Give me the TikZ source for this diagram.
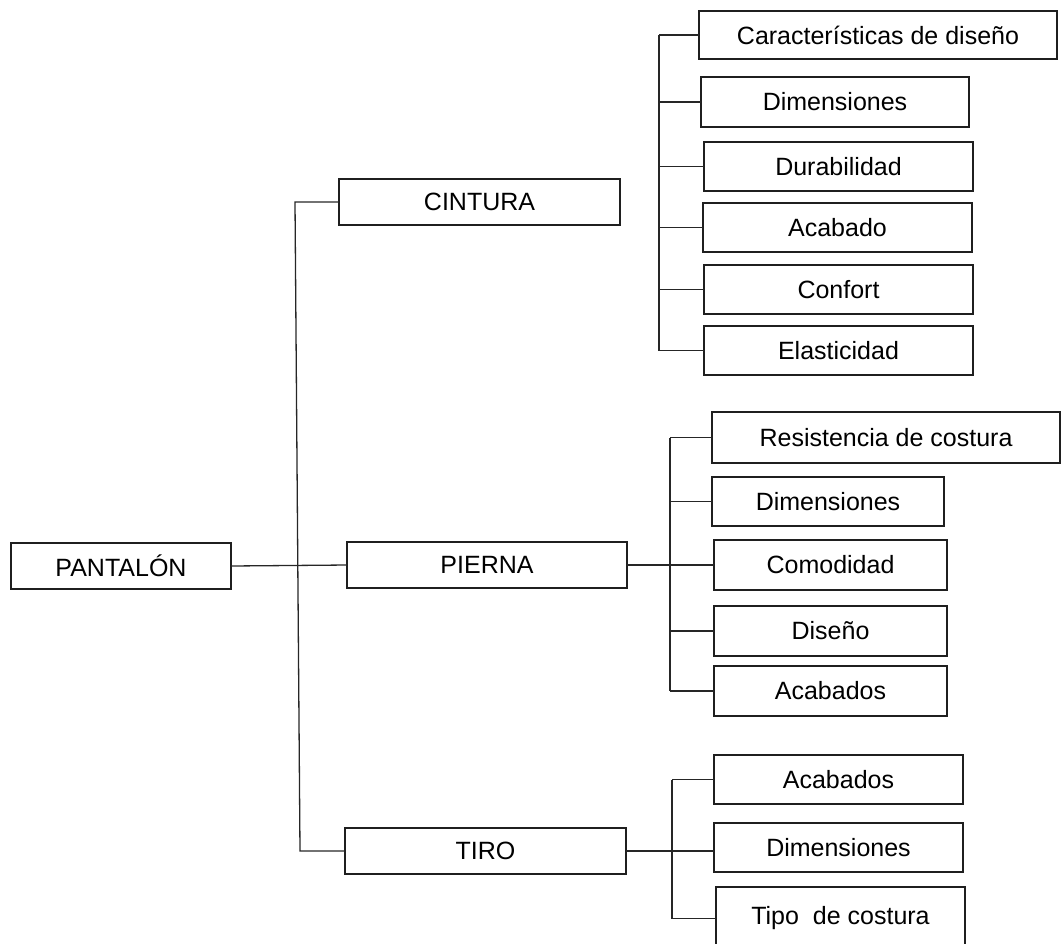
\documentclass[tikz,border=0pt]{standalone}
\usepackage{fontspec}
\setmainfont{Liberation Sans}
\begin{document}
\begin{tikzpicture}[x=1pt,y=-1pt,
  box/.style={draw=black!88, line width=2pt, fill=white, inner sep=0pt, outer sep=0pt,
    font=\fontsize{25}{30}\selectfont},
  link/.style={draw=black!85, line width=1.3pt}]
\useasboundingbox (0,0) rectangle (1062,943);
\clip (0,0) rectangle (1062,943);

% root and first level
\node[box, minimum width=220, minimum height=46] (pant) at (121,566) {PANTALÓN};
\node[box, minimum width=281, minimum height=46] (cint) at (479.5,202) {CINTURA};
\node[box, minimum width=280, minimum height=46] (pier) at (487,565) {PIERNA};
\node[box, minimum width=281, minimum height=46] (tiro) at (485.5,851) {TIRO};

% CINTURA branch
\node[box, minimum width=358, minimum height=48] (c1) at (878,35) {Características de diseño};
\node[box, minimum width=268, minimum height=50] (c2) at (835,102) {Dimensiones};
\node[box, minimum width=269, minimum height=49] (c3) at (838.5,166.5) {Durabilidad};
\node[box, minimum width=269, minimum height=49] (c4) at (837.5,227.5) {Acabado};
\node[box, minimum width=269, minimum height=49] (c5) at (838.5,289.5) {Confort};
\node[box, minimum width=269, minimum height=49] (c6) at (838.5,350.5) {Elasticidad};

% PIERNA branch
\node[box, minimum width=348, minimum height=51] (p1) at (886,437.5) {Resistencia de costura};
\node[box, minimum width=232, minimum height=49] (p2) at (828,501.5) {Dimensiones};
\node[box, minimum width=233, minimum height=50] (p3) at (830.5,565) {Comodidad};
\node[box, minimum width=233, minimum height=50] (p4) at (830.5,631) {Diseño};
\node[box, minimum width=233, minimum height=50] (p5) at (830.5,691) {Acabados};

% TIRO branch
\node[box, minimum width=249, minimum height=49] (t1) at (838.5,779.5) {Acabados};
\node[box, minimum width=249, minimum height=49] (t2) at (838.5,847.5) {Dimensiones};
\node[box, minimum width=249, minimum height=63] (t3) at (840.5,918.5) {Tipo\ \ de costura};

% spines
\coordinate (mtop) at (295,202);
\coordinate (mbot) at (300,851);
\coordinate (cs) at (659,0);
\coordinate (ps) at (670,0);
\coordinate (ts) at (672,0);

% main spine
\draw[link] (cint.west) -- (mtop) -- (mbot) -- (tiro.west);
\draw[link] (pant.east) -- (pier.west);

% CINTURA spine and ticks
\draw[link] (c1.west -| cs) -- (c6.west -| cs);
\foreach \n in {c1,c2,c3,c4,c5,c6}
  \draw[link] (\n.west -| cs) -- (\n.west);

% PIERNA spine and ticks
\draw[link] (p1.west -| ps) -- (p5.west -| ps);
\draw[link] (pier.east) -- (p3.west);
\foreach \n in {p1,p2,p4,p5}
  \draw[link] (\n.west -| ps) -- (\n.west);

% TIRO spine and ticks
\draw[link] (t1.west -| ts) -- (t3.west -| ts);
\draw[link] (tiro.east) -- (tiro.east -| t2.west);
\foreach \n in {t1,t3}
  \draw[link] (\n.west -| ts) -- (\n.west);
\end{tikzpicture}
\end{document}
